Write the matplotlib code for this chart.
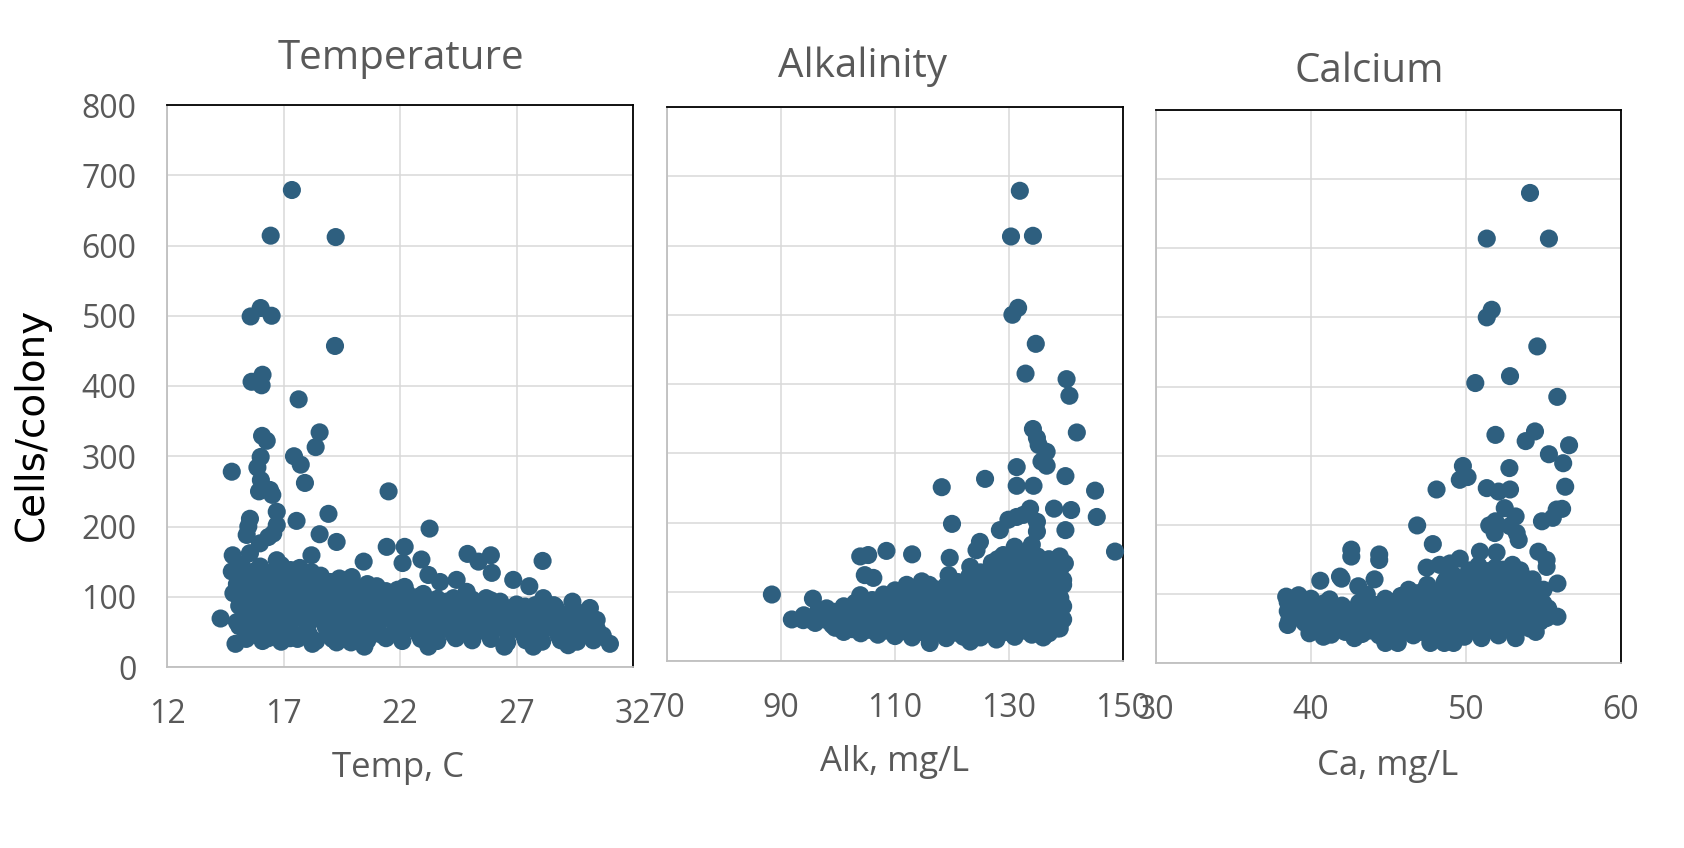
"""
Cells per colony against temperature, alkalinity and calcium.
"""

import matplotlib
matplotlib.use("Agg")
import matplotlib.pyplot as plt

# ---- data ----
# Temperature panel (deg C, cells/colony)
temp_x = [
    17.36, 16.45, 19.24, 16.02, 15.59, 16.49, 19.21, 16.10, 15.63, 16.06,
    17.65, 16.08, 16.28, 18.55, 18.38, 17.45, 17.74, 16.02, 15.88, 16.03,
    15.95, 16.42, 16.52, 14.78, 17.92, 21.51, 16.71, 16.71, 16.56, 16.35,
    15.99, 15.56, 15.49, 15.42, 17.56, 18.93, 18.55, 19.28, 23.27, 21.43,
    22.20, 22.11, 22.92, 20.44, 18.20, 14.82, 14.78, 14.85, 15.56, 24.90,
    25.37, 25.90, 25.94, 28.12, 26.86, 27.55, 23.22, 23.72, 24.43, 14.30,
    14.94, 16.35, 17.28, 18.24, 19.28, 20.47, 23.22, 26.48, 27.72, 29.22,
    31.01, 30.15, 28.15, 29.40, 16.71, 17.56, 19.93, 21.00, 22.20, 24.86,
    25.70, 26.30, 27.37, 28.66, 30.44, 30.44,
    # dense cloud
    15.4, 16.1, 16.9, 17.6, 18.4, 19.1, 19.9, 20.6, 21.4, 22.1, 22.9, 23.6,
    24.4, 25.1, 25.9, 26.6, 27.4, 28.1, 28.9, 29.6, 30.3,
    15.8, 16.6, 17.3, 18.1, 18.9, 19.7, 20.4, 21.2, 22.0, 22.8, 23.5, 24.3,
    25.0, 25.8, 26.6, 27.3, 28.0, 28.8, 29.6, 30.4,
    15.1, 15.8, 16.5, 17.2, 18.0, 18.8, 19.5, 20.2, 21.0, 21.8, 22.5, 23.3,
    24.0, 24.8, 25.5, 26.3, 27.0, 27.8, 28.5, 29.3, 30.0, 30.7,
    15.0, 15.7, 16.5, 17.3, 18.1, 18.8, 19.6, 20.4, 21.1, 21.9, 22.6, 23.4,
    24.2, 24.9, 25.7, 26.4, 27.2, 28.0, 28.7, 29.5, 30.1,
    15.4, 16.2, 16.9, 17.7, 18.4, 19.2, 19.9, 20.7, 21.4, 22.2, 22.9, 23.7,
    24.4, 25.2, 25.9, 26.7, 27.4, 28.2, 28.9, 29.7, 30.3,
    15.3, 16.0, 16.8, 17.6, 18.3, 19.1, 19.8, 20.6, 21.4, 22.1, 22.9, 23.7,
    24.4, 25.2, 26.0, 26.7, 27.5, 28.3, 29.0, 29.8,
    15.1, 15.8, 16.5, 17.3, 18.0, 18.8, 19.5, 20.3, 21.0, 21.8, 22.6, 23.3,
    24.1, 24.8, 25.6, 26.4, 27.1, 27.9, 28.7, 29.5,
    15.6, 16.4, 17.1, 17.9, 18.6, 19.4, 20.1, 20.9, 21.6, 22.4, 23.2, 24.0,
    24.7, 25.5, 26.2, 27.0, 27.8, 28.6,
    15.3, 16.0, 16.8, 17.5, 18.3, 19.0, 19.8, 20.5, 21.3, 22.0, 22.8, 23.6,
    24.3, 25.1, 25.9,
    15.4, 16.1, 16.9, 17.6, 18.4, 19.1, 19.9, 20.6, 21.4, 22.3, 23.0,
    15.0, 15.7, 16.5, 17.2, 18.0, 18.7, 19.5, 20.2, 21.0, 21.9,
    15.3, 16.0, 16.8, 17.5, 18.3, 19.0, 20.6,
    15.4, 16.2, 17.0, 17.8, 18.6, 19.4,
    15.8, 16.6, 17.3, 18.2,
    15.2, 16.0, 16.9, 17.7,
]
temp_y = [
    679, 614, 612, 511, 499, 500, 457, 416, 406, 401,
    381, 329, 322, 334, 313, 300, 288, 299, 284, 266,
    250, 252, 245, 278, 262, 250, 221, 202, 190, 185,
    176, 211, 200, 188, 208, 218, 189, 178, 197, 171,
    171, 148, 153, 150, 159, 159, 136, 105, 162, 161,
    150, 159, 134, 151, 124, 115, 131, 121, 124, 69,
    33, 41, 41, 33, 35, 29, 29, 29, 29, 31,
    33, 84, 98, 93, 152, 138, 128, 107, 114, 107,
    98, 93, 86, 86, 67, 55,
    40, 37, 36, 40, 37, 40, 35, 38, 41, 37, 40, 37,
    41, 38, 40, 35, 38, 36, 38, 36, 38,
    48, 47, 49, 46, 48, 47, 49, 46, 48, 47, 49, 46,
    48, 47, 49, 46, 48, 45, 47, 45,
    58, 55, 56, 57, 54, 58, 55, 56, 54, 57, 55, 58,
    55, 56, 54, 57, 55, 54, 56, 55, 52, 45,
    64, 63, 65, 62, 64, 63, 65, 62, 64, 63, 65, 62,
    64, 63, 65, 62, 63, 61, 62, 61, 60,
    72, 70, 73, 71, 70, 72, 70, 73, 70, 71, 70, 72,
    71, 73, 70, 71, 69, 71, 69, 70, 66,
    79, 78, 80, 78, 79, 77, 80, 78, 79, 78, 80, 77,
    79, 78, 77, 78, 76, 77, 75, 76,
    87, 88, 86, 87, 85, 88, 86, 85, 87, 85, 88, 85,
    86, 84, 85, 83, 84, 82, 82, 81,
    94, 95, 93, 94, 95, 93, 94, 92, 94, 93, 91, 93,
    92, 90, 91, 89, 88, 88,
    102, 100, 103, 100, 102, 100, 104, 99, 101, 98, 100, 97,
    98, 96, 95,
    109, 108, 110, 108, 109, 107, 109, 106, 108, 105, 104,
    118, 115, 117, 114, 118, 113, 116, 112, 115, 110,
    124, 123, 125, 122, 124, 121, 118,
    131, 129, 132, 128, 130, 126,
    137, 136, 138, 135,
    146, 143, 145, 141,
]

# Alkalinity panel (mg/L, cells/colony)
alk_x = [
    131.9, 130.35, 134.2, 131.6, 130.6, 134.7, 132.9, 140.1, 140.6, 141.9,
    134.2, 134.9, 135.2, 136.6, 135.7, 136.6, 131.35, 125.8, 118.2, 139.9,
    145.1, 131.35, 134.3, 145.4, 137.9, 140.9, 139.9, 120.0, 133.7, 132.5,
    134.9, 134.9, 128.4, 129.9, 131.35, 148.6, 124.9, 124.3, 119.6, 119.4,
    138.9, 139.8, 139.5, 123.2, 103.9, 105.3, 104.7, 106.2, 108.5, 113.0,
    88.4, 95.6, 91.9, 93.9, 103.9, 112.05, 114.7, 136.0, 127.8, 123.2,
    116.1, 138.9,
    # dense cloud
    101, 104, 107, 110, 113, 116, 119, 122, 125, 128, 131, 134, 137,
    99.5, 102.5, 105.5, 108.5, 111.5, 114.5, 117.5, 120.5, 123.5, 126.5,
    129.5, 132.5, 135.5, 138.5,
    96, 99, 102, 105, 108, 111, 114, 117, 120, 123, 126, 129, 132, 135, 138,
    95, 98, 101, 104, 107, 110, 113, 116, 119, 122, 125, 128, 131, 134, 137,
    139.5,
    94, 97, 100, 103, 106, 109, 112, 115, 118, 121, 124, 127, 130, 133, 136, 139,
    96.5, 99.5, 102.5, 105.5, 108.5, 111.5, 114.5, 117.5, 120.5, 123.5,
    126.5, 129.5, 132.5, 135.5, 138.5,
    98, 101, 104, 107, 110, 113, 116, 119, 122, 125, 128, 131, 134, 137, 139.5,
    103, 106, 109, 112, 115, 118, 121, 124, 127, 130, 133, 136, 139,
    106, 109, 112, 115, 118, 121, 124, 127, 130, 133, 136, 139,
    108, 111, 114, 117, 120, 123, 126, 129, 132, 135, 138,
    110, 114, 117, 120, 123, 126, 129, 132, 135, 138,
    116, 119, 122, 125, 128, 131, 134, 137, 139.5,
    121, 124, 127, 130, 133, 136, 139,
    123, 126, 129, 132, 135, 138,
    125, 128, 131, 134, 137,
    127, 130, 133, 136, 139,
    127, 130, 133, 136,
    128, 131, 134, 137,
    129, 132, 135,
    131, 134,
]
alk_y = [
    679, 613, 614, 510, 500, 458, 415, 407, 383, 330,
    335, 322, 312, 302, 288, 282, 280, 263, 251, 267,
    246, 253, 253, 208, 220, 218, 189, 198, 220, 211,
    201, 187, 189, 204, 208, 158, 172, 160, 149, 124,
    151, 141, 117, 136, 151, 153, 124, 120, 159, 154,
    96, 90, 60, 59, 95, 110, 115, 34, 31, 28,
    26, 47,
    42, 40, 38, 36, 34, 36, 33, 35, 34, 36, 35, 38, 40,
    48, 46, 45, 44, 43, 42, 43, 41, 42, 41, 42, 44, 45, 47,
    55, 52, 50, 54, 50, 53, 49, 52, 48, 51, 49, 52, 50, 53, 55,
    60, 59, 61, 58, 59, 57, 58, 56, 57, 55, 57, 58, 59, 60, 58, 60,
    66, 64, 67, 63, 66, 62, 65, 61, 64, 60, 63, 66, 64, 67, 63, 66,
    72, 71, 73, 70, 71, 69, 70, 68, 70, 69, 71, 72, 73, 71, 72,
    76, 79, 75, 78, 74, 77, 73, 76, 79, 76, 79, 77, 80, 76, 79,
    84, 83, 85, 82, 84, 81, 83, 85, 84, 86, 85, 86, 84,
    88, 91, 87, 90, 86, 89, 92, 89, 92, 90, 93, 91,
    96, 97, 95, 96, 95, 97, 96, 98, 97, 99, 97,
    102, 99, 104, 100, 104, 101, 105, 102, 106, 103,
    110, 109, 111, 110, 112, 111, 113, 112, 110,
    114, 117, 115, 118, 116, 119, 114,
    122, 123, 121, 124, 122, 121,
    128, 130, 127, 131, 128,
    134, 135, 133, 136, 133,
    142, 140, 143, 139,
    147, 148, 146, 147,
    153, 155, 151,
    165, 168,
]

# Calcium panel (mg/L, cells/colony)
ca_x = [
    54.13, 51.34, 55.35, 51.66, 51.34, 54.6, 52.84, 50.6, 55.89, 51.9,
    54.45, 53.85, 56.65, 55.35, 56.27, 52.8, 49.8, 49.6, 50.1, 48.1,
    51.34, 52.1, 52.84, 56.4, 55.85, 56.2, 55.6, 54.9, 52.5, 53.2,
    52.84, 53.27, 53.4, 51.5, 51.9, 51.85, 46.85, 47.86, 42.6, 42.6,
    44.4, 44.4, 50.9, 51.97, 49.6, 47.46, 48.3, 48.97, 54.67, 55.2,
    55.2, 55.9, 55.9, 40.6, 41.87, 41.97, 44.1, 43.05, 38.4, 38.5,
    39.9, 40.8, 41.3, 42.8, 44.8, 45.6, 47.7, 48.6, 49.2, 51.0,
    53.2, 54.5,
    # dense cloud
    42.2, 43.3, 44.4, 45.5, 46.6, 47.7, 48.8, 49.9, 51.0, 52.1, 53.2, 54.1,
    41.6, 42.7, 43.8, 44.9, 46.0, 47.1, 48.2, 49.3, 50.4, 51.5, 52.6, 53.7,
    38.6, 39.6, 40.7, 41.8, 42.9, 44.0, 45.1, 46.2, 47.3, 48.4, 49.5, 50.6,
    51.7, 52.8, 53.9, 54.8,
    39.0, 40.1, 41.2, 42.3, 43.4, 44.5, 45.6, 46.7, 47.8, 48.9, 50.0, 51.1,
    52.2, 53.3, 54.3, 55.2,
    38.5, 39.4, 40.4, 41.5, 42.6, 43.7, 44.8, 45.9, 47.0, 48.1, 49.2, 50.3,
    51.4, 52.5, 53.6, 54.6, 55.3,
    38.9, 40.0, 41.1, 42.2, 43.3, 44.4, 45.5, 46.6, 47.7, 48.8, 49.9, 51.0,
    52.1, 53.2, 54.3, 55.3,
    38.5, 39.6, 40.8, 42.0, 43.1, 44.2, 45.3, 46.4, 47.5, 48.6, 49.7, 50.8,
    51.9, 53.0, 54.1, 55.0,
    40.0, 41.2, 44.8, 45.9, 47.0, 48.1, 49.2, 50.3, 51.4, 52.5, 53.6, 54.7,
    39.2, 43.6, 45.8, 46.9, 48.0, 49.1, 50.2, 51.3, 52.4, 53.5, 54.6,
    46.3, 47.4, 48.5, 49.6, 50.7, 51.8, 52.9, 54.0, 55.0,
    47.5, 48.6, 49.7, 50.8, 51.9, 53.0, 54.2,
    48.7, 49.8, 50.9, 52.0, 53.1, 54.3,
    49.2, 50.3, 51.4, 52.5, 53.6,
    50.2, 51.3, 52.4, 53.5,
    50.8, 51.9, 53.0,
]
ca_y = [
    680, 614, 614, 511, 500, 458, 415, 405, 385, 330,
    335, 321, 315, 302, 289, 282, 285, 265, 269, 251,
    253, 248, 251, 255, 222, 223, 210, 205, 224, 212,
    198, 188, 178, 199, 205, 188, 199, 172, 164, 154,
    157, 149, 161, 160, 151, 138, 142, 144, 161, 149,
    139, 115, 67, 119, 125, 122, 121, 111, 96, 55,
    43, 38, 41, 36, 29, 29, 29, 29, 29, 36,
    36, 45,
    45, 42, 40, 38, 40, 37, 40, 38, 42, 40, 44, 50,
    51, 49, 47, 46, 47, 45, 47, 46, 49, 48, 51, 55,
    62, 58, 55, 58, 54, 57, 53, 56, 52, 55, 51, 55,
    52, 56, 58, 60,
    66, 64, 63, 65, 62, 64, 61, 63, 62, 64, 62, 63,
    61, 64, 66, 65,
    75, 70, 73, 70, 72, 68, 72, 69, 73, 70, 74, 70,
    74, 71, 75, 72, 70,
    81, 79, 80, 78, 80, 77, 79, 78, 80, 78, 81, 79,
    80, 79, 82, 79,
    88, 84, 86, 83, 87, 84, 88, 85, 88, 84, 88, 85,
    89, 86, 90, 86,
    93, 92, 93, 92, 94, 91, 94, 92, 95, 93, 96, 93,
    98, 99, 97, 101, 98, 102, 99, 103, 100, 104, 100,
    106, 107, 105, 108, 106, 109, 107, 110, 106,
    113, 116, 112, 116, 113, 117, 113,
    120, 121, 119, 122, 120, 121,
    127, 130, 126, 130, 127,
    134, 133, 135, 134,
    141, 138, 142,
]

x_ticks = [
    [12, 17, 22, 27, 32],
    [70, 90, 110, 130, 150],
    [30, 40, 50, 60],
]
titles = ["Temperature", "Alkalinity", "Calcium"]
x_labels = ["Temp, C", "Alk, mg/L", "Ca, mg/L"]

# ---- styling ----
dot_color = "#2e5f7f"
text_gray = "#595959"
plt.rcParams["font.family"] = ["Open Sans", "DejaVu Sans"]

W, H = 1684, 848
fig = plt.figure(figsize=(W / 100, H / 100), dpi=100)

# axes boxes in pixels: left, top, right, bottom
boxes = [(167, 105, 633, 667), (667, 107, 1123, 661), (1156, 110, 1621, 663)]
title_pos = [(401, 59), (862, 67), (1369, 72)]
xlabel_pos = [(398, 768), (895, 762), (1388, 766)]
series = [(temp_x, temp_y), (alk_x, alk_y), (ca_x, ca_y)]

for i, (l, t, r, b) in enumerate(boxes):
    ax = fig.add_axes([l / W, 1 - b / H, (r - l) / W, (b - t) / H])
    xs, ys = series[i]
    ax.scatter(xs, ys, s=170, color=dot_color, edgecolors="none", zorder=3,
               clip_on=False)
    ax.set_xlim(x_ticks[i][0], x_ticks[i][-1])
    ax.set_ylim(0, 800)
    ax.set_xticks(x_ticks[i])
    ax.set_yticks(range(0, 801, 100))
    ax.grid(True, color="#d9d9d9", linewidth=1.1)
    ax.set_axisbelow(True)
    ax.tick_params(length=0, labelsize=23, colors=text_gray, pad=22)
    if i > 0:
        ax.set_yticklabels([])
    for side in ("left", "bottom"):
        ax.spines[side].set_color("#bfbfbf")
        ax.spines[side].set_linewidth(1.3)
    for side in ("top", "right"):
        ax.spines[side].set_color("black")
        ax.spines[side].set_linewidth(1.3)

    tx, ty = title_pos[i]
    fig.text(tx / W, 1 - ty / H, titles[i], ha="center", va="center",
             fontsize=29, color=text_gray)
    lx, ly = xlabel_pos[i]
    fig.text(lx / W, 1 - ly / H, x_labels[i], ha="center", va="center",
             fontsize=25, color=text_gray)

fig.text(32 / W, 1 - 424 / H, "Cells/colony", rotation=90, ha="center",
         va="center", fontsize=28, color="black", family="DejaVu Sans")

fig.savefig("out.png", dpi=100)
